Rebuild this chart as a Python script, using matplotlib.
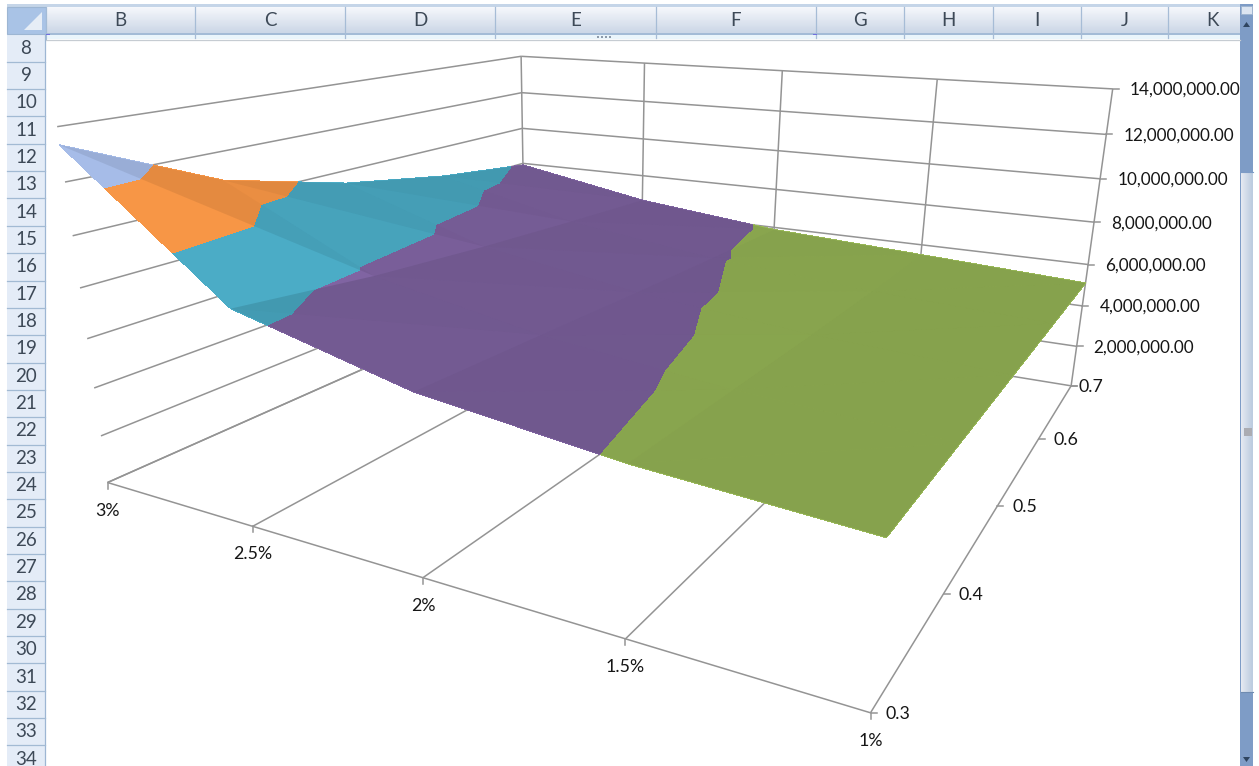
import numpy as np
import matplotlib
matplotlib.use('Agg')
import matplotlib.pyplot as plt
import matplotlib.tri as mtri
from matplotlib.path import Path
from matplotlib.patches import Rectangle, Polygon
from matplotlib.collections import PolyCollection

plt.rcParams['font.family'] = ['Lato', 'DejaVu Sans']

rates = [3.0, 2.5, 2.0, 1.5, 1.0]
weights = [0.3, 0.4, 0.5, 0.6, 0.7]
# one row per rate, one column per weight
rate_3 = [13340000, 10800000, 9400000, 8500000, 7900000]
rate_25 = [8340000, 7710000, 7280000, 6940000, 6640000]
rate_2 = [6710000, 6485000, 6245000, 6044000, 5880000]
rate_15 = [5900000, 5750000, 5600000, 5500000, 5500000]
rate_1 = [5460000, 5380000, 5290000, 5200000, 5110000]

value_ticks = [0, 2000000, 4000000, 6000000, 8000000, 10000000, 12000000, 14000000]
rate_labels = ['3%', '2.5%', '2%', '1.5%', '1%']
weight_labels = ['0.3', '0.4', '0.5', '0.6', '0.7']
band_levels = [4000000, 6000000, 8000000, 10000000, 12000000, 14000000]
band_colors = ['#9BBB59', '#8064A2', '#4BACC6', '#F79646', '#A6BCE8']

columns = ['B', 'C', 'D', 'E', 'F', 'G', 'H', 'I', 'J', 'K']
column_edges = [46, 195, 345, 495, 656, 816, 904, 993, 1081, 1168, 1240]
row_numbers = list(range(8, 35))

GRID = '#949494'
TEXT = '#161616'
HEAD = '#3d4957'

# reference points of the 3d box: rate, weight, value, screen x, screen y
camera_points = [
    (3, .3, 14, 57, 127), (3, .3, 12, 65, 182), (3, .3, 10, 72, 236), (3, .3, 8, 80, 288),
    (3, .3, 6, 87, 339), (3, .3, 4, 95, 388), (3, .3, 2, 101, 436), (3, .3, 0, 107, 482),
    (1, .7, 14, 1113, 89), (1, .7, 12, 1106, 134), (1, .7, 10, 1100, 179), (1, .7, 8, 1095, 222),
    (1, .7, 6, 1089, 264), (1, .7, 4, 1081, 306), (1, .7, 2, 1076, 347), (1, .7, 0, 1072, 385),
    (3, .7, 14, 522, 57), (3, .7, 12, 522, 92), (3, .7, 10, 522, 128),
    (2.5, .7, 14, 645, 63.5), (2, .7, 14, 781, 70.6), (1.5, .7, 14, 937, 78.8),
    (2.5, .3, 0, 252, 527), (2, .3, 0, 423, 577), (1.5, .3, 0, 627, 637), (1, .3, 0, 871, 712),
    (1, .4, 0, 943.5, 595), (1, .5, 0, 997, 507), (1, .6, 0, 1038, 440),
]


def unit(r, w, z):
    return (3 - r) / 2, (w - .3) / .4, z / 14


# solve the perspective camera from the reference points
rows, rhs = [], []
for r, w, z, x, y in camera_points:
    u, v, t = unit(r, w, z)
    rows.append([u, v, t, 1, 0, 0, 0, 0, -x * u, -x * v, -x * t])
    rows.append([0, 0, 0, 0, u, v, t, 1, -y * u, -y * v, -y * t])
    rhs += [x, y]
cam = np.append(np.linalg.lstsq(np.array(rows), np.array(rhs), rcond=None)[0], 1).reshape(3, 4)


def project(r, w, z):
    # z is in plain units, the axis runs to 14 million
    u, v, t = unit(np.asarray(r, float), np.asarray(w, float), np.asarray(z, float) / 1e6)
    h = cam @ np.array([u, v, t, np.ones_like(u)])
    return h[0] / h[2], h[1] / h[2]


fig = plt.figure(figsize=(12.59, 7.66), dpi=100)
ax = fig.add_axes([0, 0, 1, 1])
ax.axis('off')


def line3d(a, b):
    xa, ya = project(*a)
    xb, yb = project(*b)
    ax.plot([xa, xb], [ya, yb], color=GRID, lw=1.1, solid_capstyle='butt', zorder=2)


# walls and floor
top = value_ticks[-1]
for z in value_ticks:
    line3d((3, .3, z), (3, .7, z))
    line3d((3, .7, z), (1, .7, z))
    x, y = project(1, .7, z)
    ax.plot([x, x + 6], [y, y], color=GRID, lw=1.1, zorder=2)
    if z:
        ax.text(x + 17, y + 1, f'{z:,.2f}', fontsize=12.3, color=TEXT, ha='left', va='center', zorder=5)
for r in rates:
    line3d((r, .7, 0), (r, .7, top))
    line3d((r, .3, 0), (r, .7, 0))
line3d((3, .3, 0), (1, .3, 0))

for r, lab in zip(rates, rate_labels):
    x, y = project(r, .3, 0)
    ax.plot([x, x], [y, y + 6], color=GRID, lw=1.1, zorder=2)
    ax.text(x, y + 28, lab, fontsize=12.8, color=TEXT, ha='center', va='center', zorder=5)
for w, lab in zip(weights, weight_labels):
    x, y = project(1, w, 0)
    ax.plot([x, x + 6], [y, y], color=GRID, lw=1.1, zorder=2)
    pad = 7 if lab == '0.7' else 15
    ax.text(x + pad, y + 1, lab, fontsize=12.8, color=TEXT, ha='left', va='center', zorder=5)

# surface: triangulated 5 x 5 mesh, coloured in 2 million bands
values = np.array([rate_3, rate_25, rate_2, rate_15, rate_1], dtype=float)
rr, ww = np.meshgrid(rates, weights, indexing='ij')
tris = []
facet_light = []
for i in range(4):
    for j in range(4):
        a, b = i * 5 + j, (i + 1) * 5 + j
        c, d = (i + 1) * 5 + j + 1, i * 5 + j + 1
        tris.append([a, b, c])
        facet_light.append((values[i, j] - values[i + 1, j], values[i + 1, j] - values[i + 1, j + 1]))
        tris.append([a, d, c])
        facet_light.append((values[i, j + 1] - values[i + 1, j + 1], values[i, j] - values[i, j + 1]))

# bands are worked out on the rate/weight mesh, then their outlines go through the camera
tri = mtri.Triangulation(rr.ravel(), ww.ravel(), tris)
cs = ax.tricontourf(tri, values.ravel(), levels=band_levels, colors=band_colors, zorder=3)
height = mtri.LinearTriInterpolator(tri, values.ravel())
band_paths = []
for path in cs.get_paths():
    vr = np.clip(path.vertices[:, 0], 1.0001, 2.9999)
    vw = np.clip(path.vertices[:, 1], 0.30001, 0.69999)
    vx, vy = project(vr, vw, np.ma.filled(height(vr, vw), 0))
    band_paths.append(Path(np.column_stack([vx, vy]), path.codes))
cs.set_paths(band_paths)
cs.set_edgecolor('face')
cs.set_linewidth(0.3)

# facets facing the viewer stay bright, flat ones go darker
px, py = project(rr.ravel(), ww.ravel(), values.ravel())
shade = []
for dr, dw in facet_light:
    bright = .86 + .03 * dr / 1e6 - .01 * dw / 1e6
    shade.append((0, 0, 0, 1 - min(bright, 1)))
polys = [np.column_stack([px[t], py[t]]) for t in tris]
ax.add_collection(PolyCollection(polys, facecolors=shade, edgecolors='none', zorder=4))

# worksheet frame around the chart
ax.add_patch(Rectangle((7, 4), 1233, 3, fc='#C5D5E8', ec='none', zorder=6))
grad = np.linspace(0, 1, 30)[:, None, None]
top_col, bot_col = np.array([246., 248., 252.]), np.array([204., 215., 231.])
ax.imshow((top_col + (bot_col - top_col) * grad).astype(np.uint8),
          extent=(46, 1240, 33, 7), aspect='auto', zorder=6)
ax.add_patch(Rectangle((7, 7), 39, 27, fc='#A9C3E6', ec='#9DB6D3', lw=.8, zorder=7))
ax.add_patch(Polygon([[42, 12], [42, 30], [24, 30]], fc='#E6EDF6', ec='none', zorder=8))
ax.add_patch(Rectangle((46, 33), 1194, 1.5, fc='#A3BBD6', ec='none', zorder=7))
ax.add_patch(Rectangle((46, 34.5), 1194, 4.5, fc='#EAF5FB', ec='none', zorder=6))
ax.plot([46, 1240], [39.5, 39.5], color='#C6CCD2', lw=.9, zorder=7)
ax.plot([46, 46], [7, 39], color='#A3BBD6', lw=.8, zorder=7)
for x in column_edges[1:-1]:
    ax.plot([x, x], [7, 38], color='#A6BCD6', lw=.9, zorder=7)
for lab, x0, x1 in zip(columns, column_edges[:-1], column_edges[1:]):
    cx = (x0 + x1) / 2 if lab != 'K' else 1212
    ax.text(cx, 21, lab, fontsize=13.5, color=HEAD, ha='center', va='center', zorder=8)
for x in (597, 601, 605, 609):
    ax.add_patch(Rectangle((x, 35.5), 2, 2, fc='#8E9BAA', ec='none', zorder=8))
for x in (46, 813):
    ax.add_patch(Rectangle((x, 33.5), 4, 1.5, fc='#6F6FE0', ec='none', zorder=8))

ax.add_patch(Rectangle((7, 34), 39, 732, fc='#E4ECF7', ec='none', zorder=6))
ax.plot([45.5, 45.5], [34, 766], color='#9DB6D3', lw=.9, zorder=7)
for n in row_numbers:
    y = 48 + (n - 8) * 27.35
    if y + 13.7 < 766:
        ax.plot([7, 45], [y + 13.7, y + 13.7], color='#A2BAD3', lw=.9, zorder=7)
    ax.text(26, y, str(n), fontsize=13.5, color=HEAD, ha='center', va='center', zorder=8, clip_on=True)

# scroll bar on the right
ax.add_patch(Rectangle((1240, 4), 13, 762, fc='#7E9CC6', ec='none', zorder=6))
ax.add_patch(Rectangle((1241, 6), 11, 8, fc='#DCE5F1', ec='#9DB3CF', lw=.6, zorder=7))
ax.add_patch(Polygon([[1243, 27], [1250, 27], [1246.5, 22]], fc='#2F4560', ec='none', zorder=7))
shine = np.linspace(0, 1, 12)[None, :, None]
left_col, right_col = np.array([230., 234., 242.]), np.array([188., 204., 224.])
ax.imshow((left_col + (right_col - left_col) * shine).astype(np.uint8),
          extent=(1241.5, 1253, 692, 172), aspect='auto', zorder=7)
ax.plot([1241, 1253], [172, 172], color='#7E9CC6', lw=.8, zorder=8)
ax.plot([1241, 1253], [692, 692], color='#6F8BB0', lw=.8, zorder=8)
ax.add_patch(Rectangle((1244, 428), 8, 8, fc='#ABACB2', ec='none', zorder=8))
ax.add_patch(Polygon([[1243, 757], [1250, 757], [1246.5, 762]], fc='#2F4560', ec='none', zorder=7))

ax.set_xlim(0, 1259)
ax.set_ylim(766, 0)
fig.savefig('out.png', dpi=100)
